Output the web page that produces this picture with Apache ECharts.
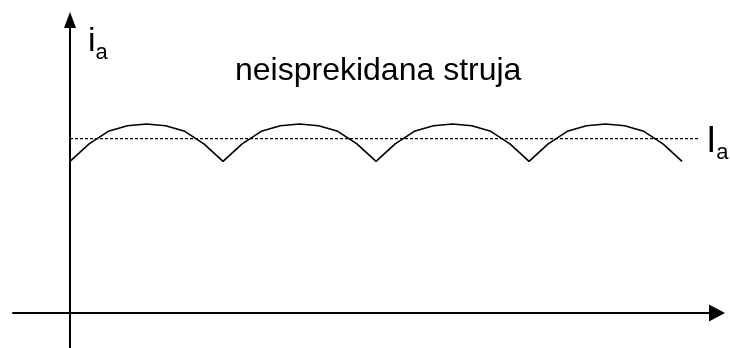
<!DOCTYPE html>
<html>
<head>
<meta charset="utf-8">
<script src="https://cdn.jsdelivr.net/npm/echarts@6/dist/echarts.min.js"></script>
<style>
  html, body { margin: 0; padding: 0; background: #fff; }
  #chart { width: 730px; height: 348px; }
</style>
</head>
<body>
<div id="chart"></div>
<script>
// phase angle (deg) of each vertex, 4 pulses of 60 deg
const angle = [0, 7.5, 15, 22.5, 30, 37.5, 45, 52.5, 60,
  67.5, 75, 82.5, 90, 97.5, 105, 112.5, 120,
  127.5, 135, 142.5, 150, 157.5, 165, 172.5, 180,
  187.5, 195, 202.5, 210, 217.5, 225, 232.5, 240];
// anode current i_a
const current = [43.5, 48.5, 52.1, 53.7, 54.2, 53.7, 52.1, 48.5, 43.5,
  48.5, 52.1, 53.7, 54.2, 53.7, 52.1, 48.5, 43.5,
  48.5, 52.1, 53.7, 54.2, 53.7, 52.1, 48.5, 43.5,
  48.5, 52.1, 53.7, 54.2, 53.7, 52.1, 48.5, 43.5];
// mean current I_a
const meanX = [0, 247.1];
const meanY = [50, 50];

const font = '"Liberation Sans", Arial, sans-serif';
const chart = echarts.init(document.getElementById('chart'));

chart.setOption({
  animation: false,
  backgroundColor: '#fff',
  title: {
    text: 'neisprekidana struja',
    left: 235,
    top: 55,
    padding: 0,
    textStyle: { fontFamily: font, fontSize: 32, fontWeight: 'normal', color: '#000' }
  },
  grid: { left: 13, right: 13, top: 20, bottom: 0 },
  xAxis: {
    type: 'value',
    min: -22.35,
    max: 253.7,
    axisLine: {
      onZero: true,
      symbol: ['none', 'triangle'],
      symbolSize: [17, 16],
      lineStyle: { color: '#000', width: 2 }
    },
    axisTick: { show: false },
    axisLabel: { show: false },
    splitLine: { show: false }
  },
  yAxis: {
    type: 'value',
    min: -10,
    max: 84,
    name: '{m|i}{s|a}',
    nameLocation: 'end',
    nameGap: -5,
    nameTextStyle: {
      align: 'left',
      verticalAlign: 'top',
      padding: [0, 0, 0, 18],
      rich: {
        m: { fontFamily: font, fontSize: 34, lineHeight: 34, verticalAlign: 'top', color: '#000' },
        s: { fontFamily: font, fontSize: 22, verticalAlign: 'top', padding: [17, 0, 0, 0], color: '#000' }
      }
    },
    axisLine: {
      onZero: true,
      symbol: ['none', 'triangle'],
      symbolSize: [12, 16],
      lineStyle: { color: '#000', width: 2 }
    },
    axisTick: { show: false },
    axisLabel: { show: false },
    splitLine: { show: false }
  },
  series: [
    {
      type: 'line',
      data: angle.map((a, i) => [a, current[i]]),
      symbol: 'none',
      lineStyle: { color: '#000', width: 1.6 }
    },
    {
      type: 'line',
      data: meanX.map((a, i) => [a, meanY[i]]),
      symbol: 'none',
      lineStyle: { color: '#000', width: 1.2, type: [3, 2] },
      endLabel: {
        show: true,
        distance: 6,
        offset: [0, 5],
        formatter: '{m|I}{s|a}',
        rich: {
          m: { fontFamily: font, fontSize: 36, lineHeight: 36, verticalAlign: 'top', color: '#000' },
          s: { fontFamily: font, fontSize: 22, verticalAlign: 'top', padding: [18, 0, 0, 0], color: '#000' }
        }
      }
    }
  ]
});
</script>
</body>
</html>
